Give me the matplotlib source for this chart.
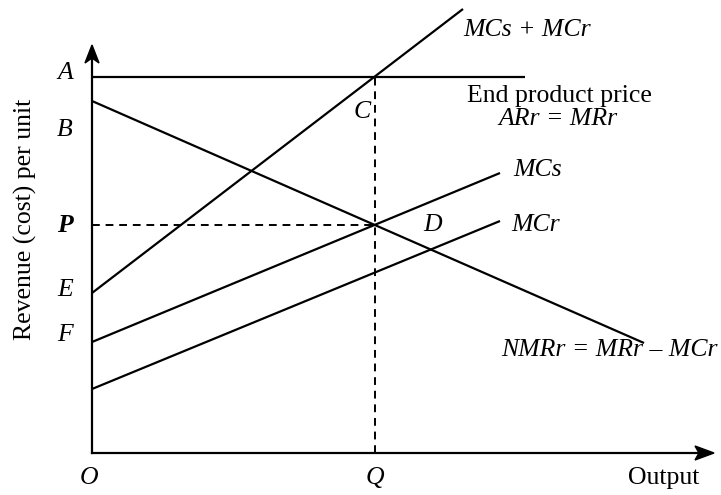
import matplotlib.pyplot as plt
from matplotlib.patches import Polygon

plt.rcParams['font.family'] = ['Liberation Serif', 'DejaVu Serif']

# line endpoints (x from origin, y up from origin), pixel-like units
arr_x, arr_y = [0, 433], [376, 376]          # End product price ARr = MRr
nmr_x, nmr_y = [0, 552], [352, 110]          # NMRr = MRr - MCr
sum_x, sum_y = [0, 371], [160, 444]          # MCs + MCr
mcs_x, mcs_y = [0, 408], [111, 280]          # MCs
mcr_x, mcr_y = [0, 408], [64, 232]           # MCr
q_val = 283
p_val = 228
c_val = 376

y_labels = ['A', 'B', 'P', 'E', 'F']
y_label_pos = [380, 323, 228, 163, 118]

fig = plt.figure(figsize=(7.21, 4.95), dpi=100)
ax = fig.add_axes([0, 0, 1, 1])
ax.set_xlim(-92, 629)
ax.set_ylim(-42, 453)
ax.axis('off')

lw = 1.6
for xs, ys in [(arr_x, arr_y), (nmr_x, nmr_y), (sum_x, sum_y), (mcs_x, mcs_y), (mcr_x, mcr_y)]:
    ax.plot(xs, ys, color='black', lw=lw, solid_capstyle='butt')

# dashed guides
ax.plot([q_val, q_val], [0, c_val], color='black', lw=1.4, ls=(0, (4, 3)))
ax.plot([0, q_val], [p_val, p_val], color='black', lw=1.4, ls=(0, (4, 3)))

# axes with stealth arrowheads
ax.plot([0, 0], [0, 400], color='black', lw=lw)
ax.plot([0, 612], [0, 0], color='black', lw=lw)
ax.add_patch(Polygon([(0, 408), (-7, 390), (0, 395), (7, 390)], closed=True, color='black'))
ax.add_patch(Polygon([(622, 0), (603, 7), (607, 0), (603, -7)], closed=True, color='black'))

fs = 18.5
for lab, yv in zip(y_labels, y_label_pos):
    w = 'bold' if lab == 'P' else 'normal'
    ax.text(-27, yv, lab, style='italic', fontweight=w, fontsize=fs, ha='center', va='center')

ax.text(-3, -25, 'O', style='italic', fontsize=fs, ha='center', va='center')
ax.text(q_val, -25, 'Q', style='italic', fontsize=fs, ha='center', va='center')
ax.text(572, -25, 'Output', fontsize=fs, ha='center', va='center')
ax.text(-67, 234, 'Revenue (cost) per unit', fontsize=fs, rotation=90, ha='center', va='center')

ax.text(270, 341, 'C', style='italic', fontsize=fs, ha='center', va='center')
ax.text(341, 228, 'D', style='italic', fontsize=fs, ha='center', va='center')
ax.text(371, 423, 'MCs + MCr', style='italic', fontsize=fs, ha='left', va='center')
ax.text(467, 357, 'End product price', fontsize=fs, ha='center', va='center')
ax.text(466, 334, 'ARr = MRr', style='italic', fontsize=fs, ha='center', va='center')
ax.text(421, 283, 'MCs', style='italic', fontsize=fs, ha='left', va='center')
ax.text(419, 228, 'MCr', style='italic', fontsize=fs, ha='left', va='center')
ax.text(517, 103, 'NMRr = MRr \u2013 MCr', style='italic', fontsize=fs, ha='center', va='center')

fig.savefig('out.png', dpi=100)
